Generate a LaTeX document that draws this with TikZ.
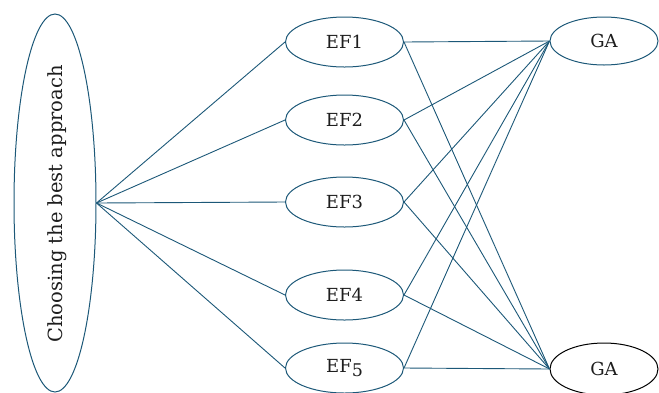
\documentclass[tikz,border=0pt]{standalone}
\usepackage{fontspec}
\setmainfont{DejaVu Serif}
\usetikzlibrary{shapes.geometric}
\definecolor{teal1}{RGB}{28,88,120}
\definecolor{txt}{RGB}{30,30,30}
\begin{document}
\begin{tikzpicture}[x=1pt,y=-1pt,
  ell/.style={ellipse,draw=teal1,line width=1pt,inner sep=0pt,text=txt,font=\fontsize{18}{20}\selectfont},
  efnode/.style={ell,minimum width=118pt,minimum height=50pt},
  ganode/.style={ell,minimum width=108pt,minimum height=48pt},
  link/.style={draw=teal1,line width=0.9pt}]
\useasboundingbox (0,0) rectangle (659,392);
\node[ell,minimum width=82pt,minimum height=378pt] (root) at (55,203) {};
\node[rotate=90,text=txt,font=\fontsize{19.5}{21}\selectfont] (roottxt) at (57,204) {Choosing the best approach};
\node[efnode] (ef1) at (344.5,42) {EF1};
\node[efnode] (ef2) at (344.5,120) {EF2};
\node[efnode] (ef3) at (344.5,202) {EF3};
\node[efnode] (ef4) at (344.5,295) {EF4};
\node[efnode] (ef5) at (344.5,368) {EF\raisebox{-0.4ex}{\fontsize{17.5}{18}\selectfont 5}};
\node[ganode] (ga1) at (604,41) {GA};
\node[ganode,draw=black,minimum height=52pt] (ga2) at (604,369) {GA};
\foreach \e in {ef1,ef2,ef3,ef4,ef5}{
  \draw[link] (root.east) -- (\e.west);
  \draw[link] (\e.east) -- (ga1.west);
  \draw[link] (\e.east) -- (ga2.west);
}
\end{tikzpicture}
\end{document}
